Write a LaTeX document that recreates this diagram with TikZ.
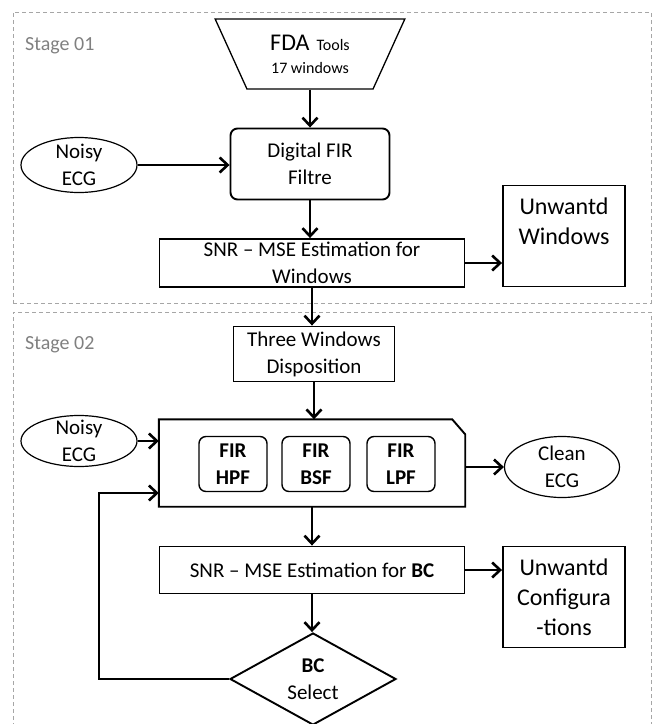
\documentclass[tikz,border=0pt]{standalone}
\usepackage{fontspec}
\setmainfont{Carlito}
\usetikzlibrary{positioning,shapes.geometric,arrows.meta}

\begin{document}
\begin{tikzpicture}[x=1pt,y=-1pt,
box/.style={draw,line width=1.9pt,rectangle,align=center,inner sep=0pt,
    font=\fontsize{21}{27}\selectfont},
rbox/.style={box,rounded corners=7pt},
fbox/.style={rbox,line width=1.4pt,minimum width=68pt,minimum height=55pt,
    font=\fontsize{21}{27}\selectfont\bfseries},
ubox/.style={box,minimum width=122pt,minimum height=101pt,
    font=\fontsize{24}{30}\selectfont},
sig/.style={draw,line width=1.2pt,ellipse,inner sep=0pt},
ltxt/.style={align=center,font=\fontsize{21}{27}\selectfont},
stage/.style={draw=gray!70,dash pattern=on 4pt off 3pt,line width=0.8pt},
stagetxt/.style={text=gray,font=\fontsize{20}{24}\selectfont,anchor=west,inner sep=0pt},
arr/.style={line width=2.6pt,-{Straight Barb[length=8pt,width=15pt]}}]
\useasboundingbox (0,0) rectangle (654,724);

% stages
\node (stage1) [stage,minimum width=638pt,minimum height=291pt] at (332,157.5) {};
\node (stage2) [stage,minimum width=638pt,minimum height=448pt] at (332,536) {};
\node (st1) [stagetxt] at (25,46) {Stage 01};
\node (st2) [stagetxt] at (25,345) {Stage 02};

% stage 01
\node (fda) [draw,line width=1.3pt,trapezium,shape border rotate=180,
    trapezium angle=62.5,trapezium stretches=true,
    minimum width=190pt,minimum height=70pt,align=center,inner sep=0pt,
    font=\fontsize{16}{20}\selectfont] at (310,54)
    {{\fontsize{24}{26}\selectfont FDA}\hspace{7pt}Tools\\[3pt]
     17 windows};
\node (dfir) [rbox,minimum width=159pt,minimum height=71pt] at (310,164)
    {Digital FIR\\Filtre};
\node (noisy1) [sig,minimum width=116pt,minimum height=55pt,
    label={[ltxt]center:Noisy\\ECG}] at (79,165) {};
\node (snrw) [box,minimum width=305pt,minimum height=48pt] at (312,263)
    {SNR -- MSE Estimation for\\Windows};
\node (unw) [ubox] at (564,236) {Unwantd\\Windows\\ };

% stage 02
\node (three) [box,minimum width=161pt,minimum height=55pt] at (314,354)
    {Three Windows\\Disposition};
\node (bank) [minimum width=306pt,minimum height=87pt,inner sep=0pt] at (312,463) {};
\draw [line width=1.9pt] (bank.north west) -- ([xshift=-13pt]bank.north east)
    -- ([yshift=-15pt]bank.north east) -- (bank.south east) -- (bank.south west) -- cycle;
\node (hpf) [fbox] at (233,464) {FIR\\HPF};
\node (bsf) [fbox] at (316,464) {FIR\\BSF};
\node (lpf) [fbox] at (401,464) {FIR\\LPF};
\node (noisy2) [sig,minimum width=116pt,minimum height=51pt,
    label={[ltxt]center:Noisy\\ECG}] at (79,441) {};
\node (clean) [sig,minimum width=115pt,minimum height=61pt,
    label={[ltxt]center:Clean\\ECG}] at (562,467) {};
\node (snrbc) [box,minimum width=305pt,minimum height=47pt] at (312,570)
    {SNR -- MSE Estimation for \textbf{BC}};
\node (unc) [ubox] at (564,597) {Unwantd\\Configura\\-tions};
\node (sel) [draw,line width=1.9pt,diamond,minimum width=166pt,minimum height=92pt,
    inner sep=0pt,label={[ltxt]center:\textbf{BC}\\Select}] at (313,679) {};
\coordinate (fb) at (99,493);

% connectors
\draw [arr] (fda.south) -- (fda.south |- dfir.north);
\draw [arr] (noisy1.east) -- (noisy1.east -| dfir.west);
\draw [arr] (dfir.south) -- (dfir.south |- snrw.north);
\draw [arr] (snrw.east) -- (snrw.east -| unw.west);
\draw [arr] (snrw.south) -- (snrw.south |- three.north);
\draw [arr] (three.south) -- (three.south |- bank.north);
\draw [arr] (noisy2.east) -- (noisy2.east -| bank.west);
\draw [arr] (bank.east |- clean.west) -- (clean.west);
\draw [arr] (bank.south) -- (bank.south |- snrbc.north);
\draw [arr] (snrbc.east) -- (snrbc.east -| unc.west);
\draw [arr] (snrbc.south) -- (snrbc.south |- sel.north);
\draw [arr] (sel.west) -| (fb) -- (fb -| bank.west);
\end{tikzpicture}
\end{document}
